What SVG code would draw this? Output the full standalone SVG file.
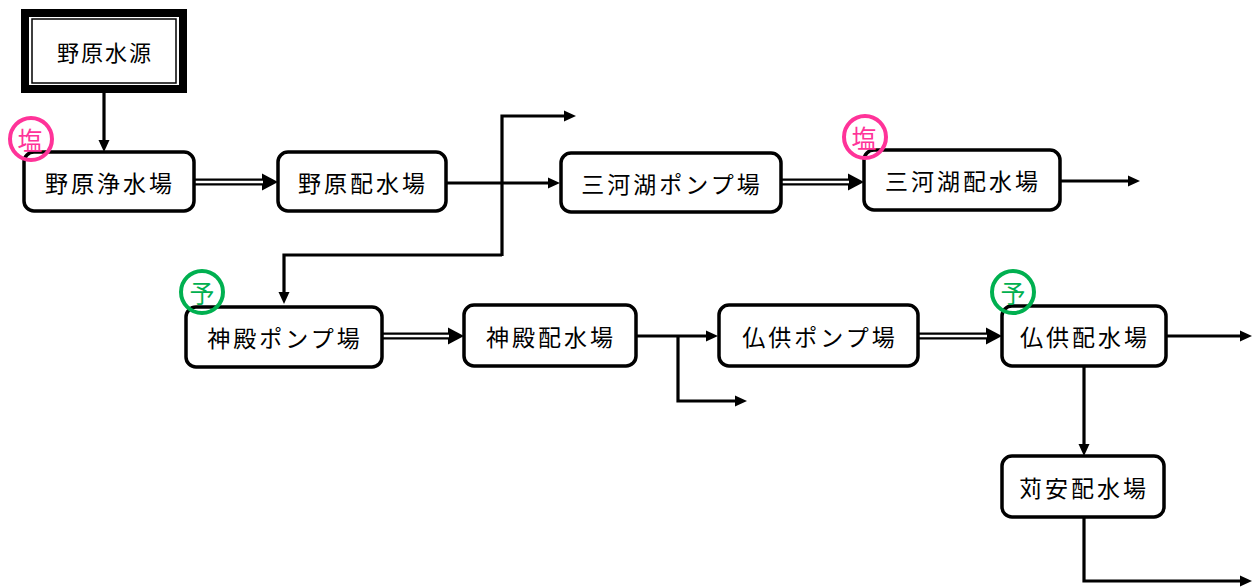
<svg xmlns="http://www.w3.org/2000/svg" width="1258" height="588" viewBox="0 0 1258 588">
<style>
.box{fill:#fff;stroke:#000;stroke-width:3.5}
.lbl{font-family:"Noto Sans CJK JP","Noto Sans",sans-serif;font-size:23px;letter-spacing:3px;fill:#000;text-anchor:middle;dominant-baseline:central}
.ln{fill:none;stroke:#000;stroke-width:3.2;stroke-linejoin:miter}
.dbl{fill:none;stroke:#000;stroke-width:7}
.dblw{fill:none;stroke:#fff;stroke-width:2.5}
.salt{fill:none;stroke:#FF3399;stroke-width:4}
.salt-t{font-family:"Noto Sans CJK JP",sans-serif;font-size:25px;fill:#FF3399;text-anchor:middle;dominant-baseline:central}
.pre{fill:none;stroke:#00B050;stroke-width:4}
.pre-t{font-family:"Noto Sans CJK JP",sans-serif;font-size:25px;fill:#00B050;text-anchor:middle;dominant-baseline:central}
</style>
<defs>
<marker id="ah" markerUnits="userSpaceOnUse" viewBox="0 -6 12 12" refX="4" refY="0" markerWidth="12" markerHeight="12" orient="auto"><path d="M0,-5.5 L12,0 L0,5.5 z" fill="#000"/></marker>
<marker id="ahd" markerUnits="userSpaceOnUse" viewBox="0 -9 16 18" refX="8" refY="0" markerWidth="16" markerHeight="18" orient="auto"><path d="M0,-8.5 L16,0 L0,8.5 z" fill="#000"/></marker>
</defs>
<rect width="1258" height="588" fill="#fff"/>

<g id="connectors">
<path class="ln" d="M104,93 V144" marker-end="url(#ah)"/>
<path class="dbl" d="M194,182 H270" marker-end="url(#ahd)"/>
<path class="dblw" d="M194,182 H263"/>
<path class="ln" d="M446,183 H552" marker-end="url(#ah)"/>
<path class="ln" d="M502,256 V116 H568" marker-end="url(#ah)"/>
<path class="ln" d="M502,255 H284 V296" marker-end="url(#ah)"/>
<path class="dbl" d="M781,182 H856" marker-end="url(#ahd)"/>
<path class="dblw" d="M781,182 H849"/>
<path class="ln" d="M1060,181 H1132" marker-end="url(#ah)"/>
<path class="dbl" d="M382,336 H456" marker-end="url(#ahd)"/>
<path class="dblw" d="M382,336 H449"/>
<path class="ln" d="M636,336 H710" marker-end="url(#ah)"/>
<path class="ln" d="M678,336 V401 H739" marker-end="url(#ah)"/>
<path class="dbl" d="M918,336 H994" marker-end="url(#ahd)"/>
<path class="dblw" d="M918,336 H987"/>
<path class="ln" d="M1166,336 H1244" marker-end="url(#ah)"/>
<path class="ln" d="M1084,366 V448" marker-end="url(#ah)"/>
<path class="ln" d="M1084,517 V581 H1244" marker-end="url(#ah)"/>
</g>

<g id="source">
<rect x="25" y="13" width="158" height="76" fill="#fff" stroke="#000" stroke-width="8"/>
<rect x="32" y="19" width="144" height="64" fill="none" stroke="#000" stroke-width="1.5"/>
<text class="lbl" x="105" y="51" style="font-size:22px;letter-spacing:2px">野原水源</text>
</g>

<g id="n-nohara-jousui">
<rect class="box" x="24" y="152" width="170" height="59" rx="10"/>
<text class="lbl" x="110" y="182">野原浄水場</text>
<circle class="salt" cx="31" cy="139" r="21"/>
<text class="salt-t" x="30" y="139">塩</text>
</g>

<g id="n-nohara-haisui">
<rect class="box" x="278" y="152" width="168" height="59" rx="10"/>
<text class="lbl" x="363" y="182">野原配水場</text>
</g>

<g id="n-mikawako-pump">
<rect class="box" x="561" y="153" width="220" height="59" rx="10"/>
<text class="lbl" x="672" y="183">三河湖ポンプ場</text>
</g>

<g id="n-mikawako-haisui">
<rect class="box" x="864" y="150" width="196" height="60" rx="10"/>
<text class="lbl" x="963" y="180">三河湖配水場</text>
<circle class="salt" cx="865" cy="137" r="21"/>
<text class="salt-t" x="864" y="137">塩</text>
</g>

<g id="n-shinden-pump">
<rect class="box" x="186" y="307" width="196" height="60" rx="10"/>
<text class="lbl" x="285" y="337">神殿ポンプ場</text>
<circle class="pre" cx="202" cy="292" r="21"/>
<text class="pre-t" x="202" y="292">予</text>
</g>

<g id="n-shinden-haisui">
<rect class="box" x="464" y="305" width="172" height="61" rx="10"/>
<text class="lbl" x="551" y="336">神殿配水場</text>
</g>

<g id="n-bukku-pump">
<rect class="box" x="719" y="305" width="199" height="61" rx="10"/>
<text class="lbl" x="820" y="336">仏供ポンプ場</text>
</g>

<g id="n-bukku-haisui">
<rect class="box" x="1002" y="306" width="164" height="60" rx="10"/>
<text class="lbl" x="1085" y="336">仏供配水場</text>
<circle class="pre" cx="1013" cy="292" r="21"/>
<text class="pre-t" x="1013" y="292">予</text>
</g>

<g id="n-kariyasu-haisui">
<rect class="box" x="1002" y="456" width="162" height="61" rx="10"/>
<text class="lbl" x="1084" y="487">苅安配水場</text>
</g>
</svg>
